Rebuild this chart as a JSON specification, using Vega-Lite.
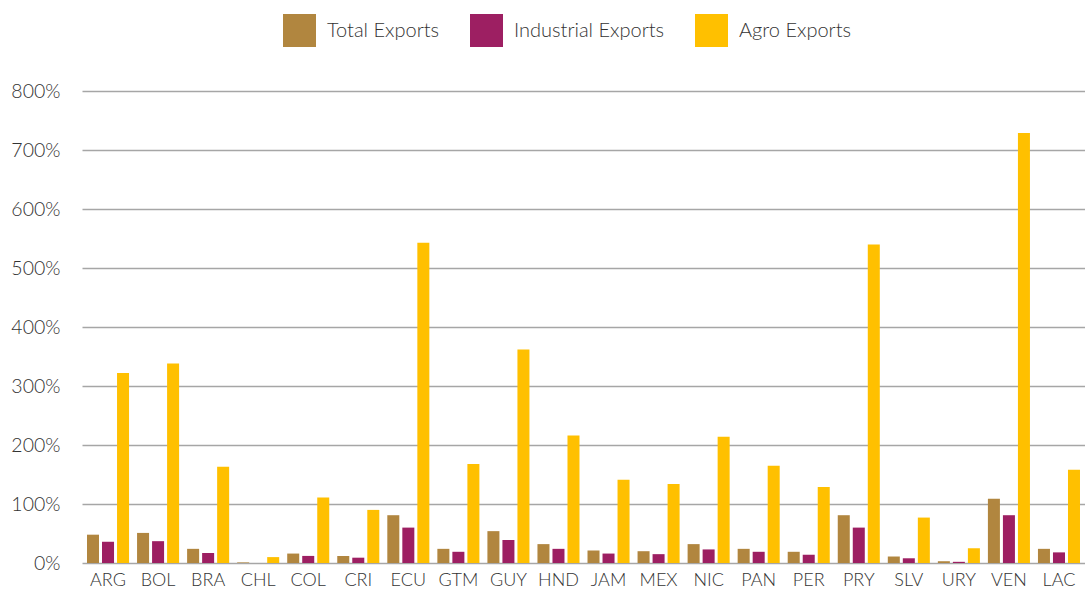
{
  "$schema": "https://vega.github.io/schema/vega-lite/v6.json",
  "width": 1085,
  "height": 595,
  "autosize": {"type": "fit", "contains": "padding"},
  "padding": {"left": 10, "right": 0, "top": 81, "bottom": 6},
  "background": "#ffffff",
  "config": {
    "view": {"stroke": null},
    "font": "Lato",
    "axis": {"labelFont": "Lato", "labelFontWeight": 300, "labelColor": "#333333", "labelFontSize": 18},
    "legend": {"labelFont": "Lato", "labelFontWeight": 300, "labelColor": "#333333", "labelFontSize": 20}
  },
  "data": {
    "values": [
      {"country": "ARG", "series": "Total Exports", "value": 48},
      {"country": "ARG", "series": "Industrial Exports", "value": 36},
      {"country": "ARG", "series": "Agro Exports", "value": 322},
      {"country": "BOL", "series": "Total Exports", "value": 51},
      {"country": "BOL", "series": "Industrial Exports", "value": 37},
      {"country": "BOL", "series": "Agro Exports", "value": 338},
      {"country": "BRA", "series": "Total Exports", "value": 24},
      {"country": "BRA", "series": "Industrial Exports", "value": 17},
      {"country": "BRA", "series": "Agro Exports", "value": 163},
      {"country": "CHL", "series": "Total Exports", "value": 1},
      {"country": "CHL", "series": "Industrial Exports", "value": 0},
      {"country": "CHL", "series": "Agro Exports", "value": 10},
      {"country": "COL", "series": "Total Exports", "value": 16},
      {"country": "COL", "series": "Industrial Exports", "value": 12},
      {"country": "COL", "series": "Agro Exports", "value": 111},
      {"country": "CRI", "series": "Total Exports", "value": 12},
      {"country": "CRI", "series": "Industrial Exports", "value": 9},
      {"country": "CRI", "series": "Agro Exports", "value": 90},
      {"country": "ECU", "series": "Total Exports", "value": 81},
      {"country": "ECU", "series": "Industrial Exports", "value": 60},
      {"country": "ECU", "series": "Agro Exports", "value": 543},
      {"country": "GTM", "series": "Total Exports", "value": 24},
      {"country": "GTM", "series": "Industrial Exports", "value": 19},
      {"country": "GTM", "series": "Agro Exports", "value": 168},
      {"country": "GUY", "series": "Total Exports", "value": 54},
      {"country": "GUY", "series": "Industrial Exports", "value": 39},
      {"country": "GUY", "series": "Agro Exports", "value": 362},
      {"country": "HND", "series": "Total Exports", "value": 32},
      {"country": "HND", "series": "Industrial Exports", "value": 24},
      {"country": "HND", "series": "Agro Exports", "value": 216},
      {"country": "JAM", "series": "Total Exports", "value": 21},
      {"country": "JAM", "series": "Industrial Exports", "value": 16},
      {"country": "JAM", "series": "Agro Exports", "value": 141},
      {"country": "MEX", "series": "Total Exports", "value": 20},
      {"country": "MEX", "series": "Industrial Exports", "value": 15},
      {"country": "MEX", "series": "Agro Exports", "value": 134},
      {"country": "NIC", "series": "Total Exports", "value": 32},
      {"country": "NIC", "series": "Industrial Exports", "value": 23},
      {"country": "NIC", "series": "Agro Exports", "value": 214},
      {"country": "PAN", "series": "Total Exports", "value": 24},
      {"country": "PAN", "series": "Industrial Exports", "value": 19},
      {"country": "PAN", "series": "Agro Exports", "value": 165},
      {"country": "PER", "series": "Total Exports", "value": 19},
      {"country": "PER", "series": "Industrial Exports", "value": 14},
      {"country": "PER", "series": "Agro Exports", "value": 129},
      {"country": "PRY", "series": "Total Exports", "value": 81},
      {"country": "PRY", "series": "Industrial Exports", "value": 60},
      {"country": "PRY", "series": "Agro Exports", "value": 540},
      {"country": "SLV", "series": "Total Exports", "value": 11},
      {"country": "SLV", "series": "Industrial Exports", "value": 8},
      {"country": "SLV", "series": "Agro Exports", "value": 77},
      {"country": "URY", "series": "Total Exports", "value": 3},
      {"country": "URY", "series": "Industrial Exports", "value": 2},
      {"country": "URY", "series": "Agro Exports", "value": 25},
      {"country": "VEN", "series": "Total Exports", "value": 109},
      {"country": "VEN", "series": "Industrial Exports", "value": 81},
      {"country": "VEN", "series": "Agro Exports", "value": 729},
      {"country": "LAC", "series": "Total Exports", "value": 24},
      {"country": "LAC", "series": "Industrial Exports", "value": 18},
      {"country": "LAC", "series": "Agro Exports", "value": 158}
    ]
  },
  "mark": {"type": "bar"},
  "encoding": {
    "x": {
      "field": "country",
      "type": "nominal",
      "sort": null,
      "title": null,
      "scale": {"paddingInner": 0.16, "paddingOuter": 0.1},
      "axis": {"labelAngle": 0, "ticks": false, "domain": false, "labelPadding": 8, "labelDx": -8}
    },
    "xOffset": {
      "field": "series",
      "type": "nominal",
      "sort": ["Total Exports", "Industrial Exports", "Agro Exports"],
      "scale": {"paddingInner": 0.2}
    },
    "y": {
      "field": "value",
      "type": "quantitative",
      "title": null,
      "scale": {"domain": [0, 800]},
      "axis": {
        "values": [0, 100, 200, 300, 400, 500, 600, 700, 800],
        "labelExpr": "datum.value + '%'",
        "labelFontSize": 19.5,
        "ticks": false,
        "domain": false,
        "labelPadding": 22,
        "gridColor": "#a6a6a6",
        "gridWidth": 1.5
      }
    },
    "color": {
      "field": "series",
      "type": "nominal",
      "sort": ["Total Exports", "Industrial Exports", "Agro Exports"],
      "scale": {
        "domain": ["Total Exports", "Industrial Exports", "Agro Exports"],
        "range": ["#B1863F", "#9D1F62", "#FFC000"]
      },
      "legend": {
        "title": null,
        "orient": "none",
        "direction": "horizontal",
        "legendX": 201,
        "legendY": -77,
        "symbolType": "square",
        "symbolSize": 1089,
        "symbolStrokeWidth": 0,
        "labelOffset": 11,
        "columnPadding": 30
      }
    }
  }
}
